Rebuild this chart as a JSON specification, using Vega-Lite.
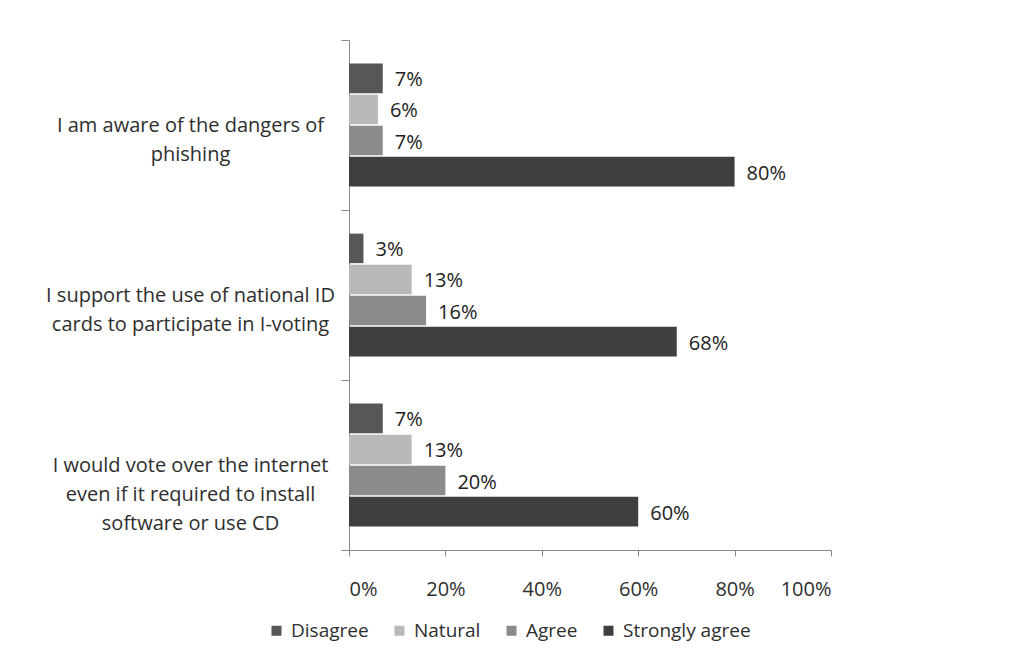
{
  "$schema": "https://vega.github.io/schema/vega-lite/v6.json",
  "width": 482,
  "height": 510,
  "autosize": {"type": "none"},
  "padding": {"left": 349, "top": 40, "right": 183, "bottom": 113},
  "background": "white",
  "config": {
    "view": {"stroke": null},
    "font": "Open Sans",
    "axis": {"domainColor": "#8a8a8a", "tickColor": "#8a8a8a", "labelColor": "#2e2e2e", "grid": false}
  },
  "data": {
    "values": [
      {"q": "I am aware of the dangers of|phishing", "s": "Disagree", "v": 0.07},
      {"q": "I am aware of the dangers of|phishing", "s": "Natural", "v": 0.06},
      {"q": "I am aware of the dangers of|phishing", "s": "Agree", "v": 0.07},
      {"q": "I am aware of the dangers of|phishing", "s": "Strongly agree", "v": 0.80},
      {"q": "I support the use of national ID|cards to participate in I-voting", "s": "Disagree", "v": 0.03},
      {"q": "I support the use of national ID|cards to participate in I-voting", "s": "Natural", "v": 0.13},
      {"q": "I support the use of national ID|cards to participate in I-voting", "s": "Agree", "v": 0.16},
      {"q": "I support the use of national ID|cards to participate in I-voting", "s": "Strongly agree", "v": 0.68},
      {"q": "I would vote over the internet|even if it required to install|software or use CD", "s": "Disagree", "v": 0.07},
      {"q": "I would vote over the internet|even if it required to install|software or use CD", "s": "Natural", "v": 0.13},
      {"q": "I would vote over the internet|even if it required to install|software or use CD", "s": "Agree", "v": 0.20},
      {"q": "I would vote over the internet|even if it required to install|software or use CD", "s": "Strongly agree", "v": 0.60}
    ]
  },
  "encoding": {
    "y": {
      "field": "q",
      "type": "nominal",
      "sort": null,
      "scale": {"paddingInner": 0, "paddingOuter": 0},
      "axis": {
        "title": null,
        "labelExpr": "split(datum.label, '|')",
        "labelAlign": "center",
        "labelBaseline": "middle",
        "labelPadding": 151,
        "labelLimit": 0,
        "labelOverlap": false,
        "labelFontSize": 20,
        "labelLineHeight": 29,
        "tickSize": 8,
        "tickBand": "extent"
      }
    },
    "yOffset": {
      "field": "s",
      "type": "nominal",
      "sort": ["Disagree", "Natural", "Agree", "Strongly agree"],
      "scale": {"paddingOuter": 0.76, "paddingInner": 0.05}
    },
    "x": {
      "field": "v",
      "type": "quantitative",
      "scale": {"domain": [0, 1], "nice": false},
      "axis": {
        "title": null,
        "format": ".0%",
        "values": [0, 0.2, 0.4, 0.6, 0.8, 1],
        "tickSize": 6,
        "labelPadding": 23,
        "labelFontSize": 20
      }
    }
  },
  "layer": [
    {
      "mark": {"type": "bar"},
      "encoding": {
        "color": {
          "field": "s",
          "type": "nominal",
          "sort": ["Disagree", "Natural", "Agree", "Strongly agree"],
          "scale": {
            "domain": ["Disagree", "Natural", "Agree", "Strongly agree"],
            "range": ["#575757", "#b9b9b9", "#8b8b8b", "#3f3f3f"]
          },
          "legend": {
            "title": null,
            "orient": "none",
            "direction": "horizontal",
            "legendX": -82,
            "legendY": 581,
            "symbolType": "square",
            "symbolSize": 100,
            "symbolStrokeWidth": 0,
            "labelFontSize": 19,
            "labelColor": "#2e2e2e",
            "labelOffset": 5,
            "columnPadding": 21
          }
        }
      }
    },
    {
      "mark": {"type": "text", "align": "left", "baseline": "middle", "dx": 12, "dy": 2, "fontSize": 20, "color": "#222222"},
      "encoding": {
        "text": {"field": "v", "type": "quantitative", "format": ".0%"}
      }
    }
  ]
}
